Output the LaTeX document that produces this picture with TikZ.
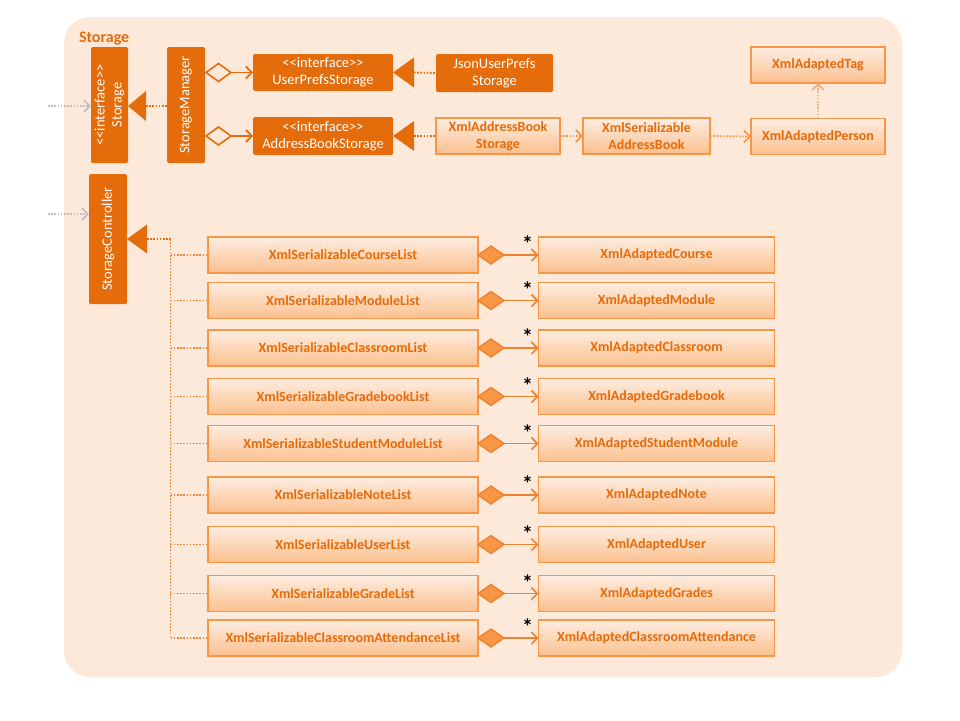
\documentclass[tikz,border=0pt]{standalone}
\usepackage{fontspec}
\setmainfont{Carlito}[Ligatures=TeXOff]
\usetikzlibrary{arrows.meta}
\definecolor{bgc}{HTML}{FDE9DA}
\definecolor{dko}{HTML}{E46C0A}
\definecolor{lto}{HTML}{F79646}
\definecolor{lnc}{HTML}{EE8230}
\definecolor{gtop}{HTML}{FEEDE1}
\definecolor{gbot}{HTML}{FBC08E}
\definecolor{grayc}{HTML}{BFBFBF}
\definecolor{upc}{HTML}{F9AE78}
\begin{document}
\begin{tikzpicture}[x=1pt,y=-1pt,
  every node/.style={inner sep=0pt, outer sep=0pt, font=\fontsize{14.5}{17}\selectfont},
  dark/.style={fill=dko, text=white, align=center, rounded corners=1.5pt},
  light/.style={draw=lto, line width=1.8pt, top color=gtop, bottom color=gbot, text=dko,
    font=\fontsize{14}{17}\selectfont\bfseries, align=center},
  dotl/.style={draw=dko, line width=1.8pt, dash pattern=on 1.6pt off 1.6pt},
  barb/.style={-{Straight Barb[length=6pt,width=12pt,line width=1.6pt]}},
  grayarr/.style={draw=grayc, line width=1.8pt, dash pattern=on 1.6pt off 1.6pt, barb},
  deparr/.style={draw=lto, line width=1.8pt, dash pattern=on 1.6pt off 1.6pt, barb},
  aggarr/.style={draw=dko, line width=1.6pt, barb},
  comparr/.style={draw=lnc, line width=1.6pt, barb},
  star/.style={font=\fontsize{22}{22}\selectfont\bfseries, text=black}
]
\useasboundingbox (0,0) rectangle (960,720);
\fill[bgc, rounded corners=26pt] (64,17) rectangle (902,677);
\node[text=dko, font=\fontsize{16}{18}\selectfont\bfseries, anchor=west] (title) at (79,38.5) {Storage};

% dark boxes
\node[dark, rotate=90, minimum width=116, minimum height=37] (stor) at (109.5,105) {<<interface>>\\Storage};
\node[dark, rotate=90, minimum width=116, minimum height=38] (smgr) at (186,105) {StorageManager};
\node[dark, minimum width=140, minimum height=37] (ups) at (323,72.5) {<<interface>>\\UserPrefsStorage};
\node[dark, minimum width=140, minimum height=38] (abs) at (323,136) {<<interface>>\\AddressBookStorage};
\node[dark, minimum width=117, minimum height=38] (jups) at (494.5,73) {JsonUserPrefs\\Storage};
\node[dark, rotate=90, minimum width=130, minimum height=38] (sctl) at (108,239) {StorageController};

% light boxes top
\node[light, minimum width=124, minimum height=36] (xabs) at (498,136) {XmlAddressBook\\Storage};
\node[light, minimum width=127, minimum height=36] (xsab) at (646.5,136) {XmlSerializable\\AddressBook};
\node[light, minimum width=134, minimum height=36] (xap) at (818,136.5) {XmlAdaptedPerson};
\node[light, minimum width=134, minimum height=36] (xat) at (818,65) {XmlAdaptedTag};

% incoming
\coordinate (in1) at (48,106);
\coordinate (in2) at (48,214);
\draw[grayarr] (in1) -- (in1 -| stor.north);
\draw[grayarr] (in2) -- (in2 -| sctl.north);

% realization triangles
\fill[dko] (stor.south |- 0,106) -- ++(18,-15) -- ++(0,30) -- cycle;
\draw[dotl] (stor.south |- 0,106) ++(18,0) -- (smgr.north |- 0,106);
\fill[dko] (ups.east) -- ++(21,-15) -- ++(0,30) -- cycle;
\draw[dotl] (ups.east) ++(21,0) -- (jups.west);
\fill[dko] (abs.east) -- ++(21,-15) -- ++(0,30) -- cycle;
\draw[dotl] (abs.east) ++(21,0) -- (xabs.west);

% aggregation
\draw[dko, line width=1.6pt, fill=bgc] (smgr.south |- ups.west) ++(1,0) -- ++(12.5,-9) -- ++(12.5,9) -- ++(-12.5,9) -- cycle;
\draw[aggarr] (smgr.south |- ups.west) ++(26,0) -- (ups.west);
\draw[dko, line width=1.6pt, fill=bgc] (smgr.south |- abs.west) ++(1,0) -- ++(12.5,-9) -- ++(12.5,9) -- ++(-12.5,9) -- cycle;
\draw[aggarr] (smgr.south |- abs.west) ++(26,0) -- (abs.west);

% dependencies
\draw[deparr] (xabs.east) -- (xsab.west);
\draw[deparr] (xsab.east) -- (xap.west);
\draw[draw=upc, line width=1.8pt, dash pattern=on 1.6pt off 1.6pt, barb] (xap.north) -- (xat.south);

% storage controller
\fill[dko] (sctl.south) -- ++(20,-14.5) -- ++(0,29) -- cycle;
\coordinate (bus) at (170.5,239);
\draw[dotl] (sctl.south) ++(20,0) -- (bus);

\foreach \i/\a/\b/\y in {
  1/XmlSerializableCourseList/XmlAdaptedCourse/255,
  2/XmlSerializableModuleList/XmlAdaptedModule/300.5,
  3/XmlSerializableClassroomList/XmlAdaptedClassroom/348,
  4/XmlSerializableGradebookList/XmlAdaptedGradebook/396.5,
  5/XmlSerializableStudentModuleList/XmlAdaptedStudentModule/443.5,
  6/XmlSerializableNoteList/XmlAdaptedNote/495,
  7/XmlSerializableUserList/XmlAdaptedUser/544.5,
  8/XmlSerializableGradeList/XmlAdaptedGrades/593.5,
  9/XmlSerializableClassroomAttendanceList/XmlAdaptedClassroomAttendance/638}{
  \node[light, minimum width=270, minimum height=36] (L\i) at (343,\y) {\a};
  \node[light, minimum width=236, minimum height=36] (R\i) at (656.5,\y) {\b};
  \draw[dotl, draw=lnc] (bus |- L\i.west) -- (L\i.west);
  \filldraw[fill=lto, draw=lnc, line width=1.4pt, line join=miter] (L\i.east) -- ++(13,-9) -- ++(13,9) -- ++(-13,9) -- cycle;
  \draw[comparr] (L\i.east) ++(26,0) -- (R\i.west);
  \node[star] (s\i) at ([xshift=-11pt, yshift=11pt]R\i.west) {*};
}
\draw[dotl, draw=lnc] (bus) -- (bus |- L9.west);
\end{tikzpicture}
\end{document}
